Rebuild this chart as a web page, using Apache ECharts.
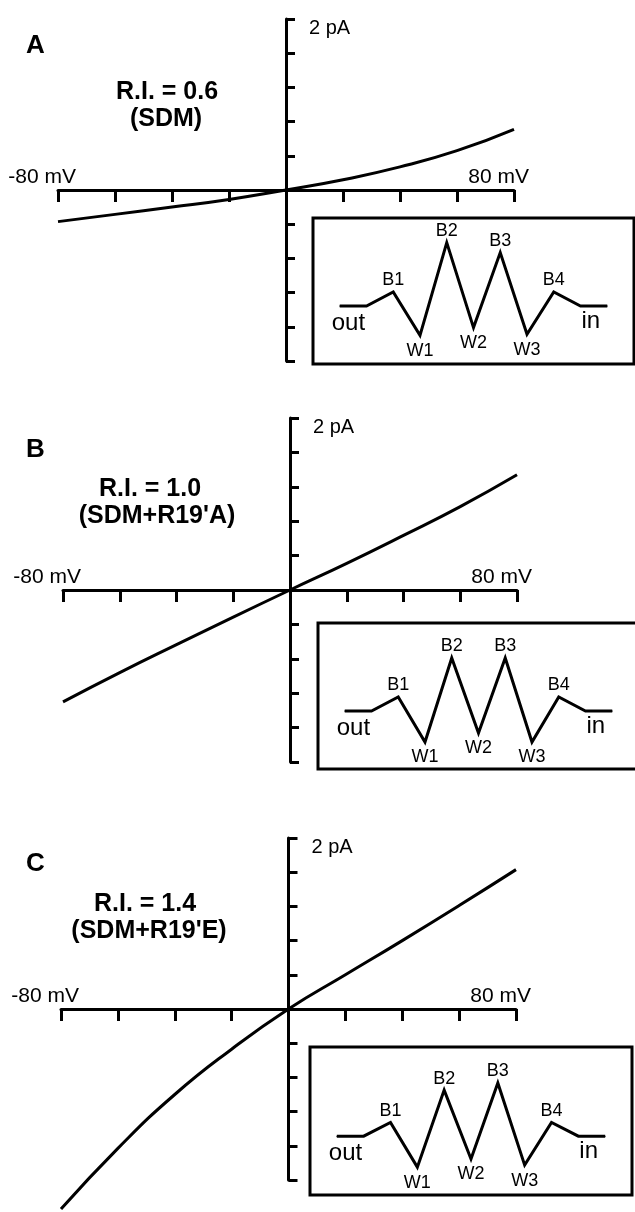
<!DOCTYPE html>
<html>
<head>
<meta charset="utf-8">
<script src="https://cdn.jsdelivr.net/npm/echarts@6/dist/echarts.min.js"></script>
<style>
  html, body { margin: 0; padding: 0; background: #fff; overflow: hidden; }
  #chart { width: 635px; height: 1212px; }
</style>
</head>
<body>
<div id="chart"></div>
<script>
// ---------- DATA ----------
const voltages = [-80, -60, -40, -20, 0, 20, 40, 60, 80];          // mV
const currentA = [-0.37, -0.285, -0.2, -0.11, 0, 0.12, 0.27, 0.46, 0.71];   // pA, R.I. 0.6
const currentB = [-1.30, -0.96, -0.635, -0.315, 0, 0.31, 0.635, 0.97, 1.34]; // pA, R.I. 1.0
const currentC = [-2.34, -1.63, -1.00, -0.47, 0, 0.40, 0.80, 1.21, 1.63];   // pA, R.I. 1.4

const panelLetters = ['A', 'B', 'C'];
const riLabels = ['R.I. = 0.6', 'R.I. = 1.0', 'R.I. = 1.4'];
const constructLabels = ['(SDM)', "(SDM+R19'A)", "(SDM+R19'E)"];
const xEndValues = [-80, 80];
const xEndLabels = ['-80 mV', '80 mV'];
const yTopValue = 2;
const yTopLabel = '2 pA';

// energy profile (arbitrary units) along the pore, out -> in
const siteLabels = ['out', '', 'B1', 'W1', 'B2', 'W2', 'B3', 'W3', 'B4', 'in', ''];
const profileA = [0, 0, 1.4, -2.93, 6.34, -2.16, 5.34, -2.83, 1.4, 0, 0];
const profileB = [0, 0, 1.4, -3.1, 5.3, -2.2, 5.3, -3.1, 1.4, 0, 0];
const profileC = [0, 0, 1.35, -3.05, 4.55, -2.25, 5.25, -2.85, 1.35, 0, 0];

// ---------- LAYOUT ----------
const FONT = '"Liberation Sans", Arial, Helvetica, sans-serif';
const ivGrids = [
  { left: 58, top: 19, width: 456, height: 342 },
  { left: 63, top: 418, width: 454, height: 344 },
  { left: 61, top: 838, width: 455, height: 342 }
];
const insetGrids = [
  { left: 313, top: 218, width: 321, height: 146 },
  { left: 318, top: 623, width: 329, height: 146 },
  { left: 310, top: 1047, width: 322, height: 148 }
];
const insetXMax = [11, 11.3, 11];
const letterPos = [{ left: 26, top: 33 }, { left: 26, top: 437 }, { left: 26, top: 851 }];
const riPos = [{ x: 167, top: 79 }, { x: 150, top: 476 }, { x: 145, top: 891 }];
const conPos = [{ x: 166, top: 106 }, { x: 157, top: 503 }, { x: 149, top: 918 }];

const currents = [currentA, currentB, currentC];
const profiles = [profileA, profileB, profileC];

const grids = [];
const xAxes = [];
const yAxes = [];
const series = [];
const titles = [];

for (let i = 0; i < 3; i++) {
  grids.push(Object.assign({ containLabel: false, outerBoundsMode: 'none' }, ivGrids[i]));
  xAxes.push({
    gridIndex: i, type: 'value', min: -80, max: 80, interval: 20,
    axisLine: { show: true, onZero: true, lineStyle: { color: '#000', width: 3 } },
    axisTick: { show: true, length: 12, lineStyle: { color: '#000', width: 3 } },
    axisLabel: { show: false },
    splitLine: { show: false }
  });
  yAxes.push({
    gridIndex: i, type: 'value', min: -2, max: 2, interval: 0.4,
    axisLine: { show: true, onZero: true, lineStyle: { color: '#000', width: 3 } },
    axisTick: { show: true, inside: true, length: 9, lineStyle: { color: '#000', width: 3 } },
    axisLabel: { show: false },
    splitLine: { show: false }
  });
  series.push({
    type: 'line', xAxisIndex: i, yAxisIndex: i,
    data: voltages.map((v, k) => [v, currents[i][k]]),
    smooth: 0.5, symbol: 'none', clip: false,
    lineStyle: { color: '#000', width: 3 }
  });
  titles.push({
    text: panelLetters[i], left: letterPos[i].left, top: letterPos[i].top, padding: 0,
    textStyle: { fontSize: 26, fontWeight: 'bold', fontFamily: FONT, color: '#000', lineHeight: 26 }
  });
  titles.push({
    text: riLabels[i], left: riPos[i].x, top: riPos[i].top, textAlign: 'center', padding: 0,
    textStyle: { fontSize: 25, fontWeight: 'bold', fontFamily: FONT, color: '#000', lineHeight: 27 }
  });
  titles.push({
    text: constructLabels[i], left: conPos[i].x, top: conPos[i].top, textAlign: 'center', padding: 0,
    textStyle: { fontSize: 25, fontWeight: 'bold', fontFamily: FONT, color: '#000', lineHeight: 27 }
  });
}

for (let i = 0; i < 3; i++) {
  const gi = 3 + i;
  grids.push(Object.assign({ show: true, borderColor: '#000', borderWidth: 3, backgroundColor: 'transparent', containLabel: false, outerBoundsMode: 'none' }, insetGrids[i]));
  xAxes.push({ gridIndex: gi, type: 'value', min: -1, max: insetXMax[i], show: false });
  yAxes.push({ gridIndex: gi, type: 'value', min: -5.8, max: 8.8, show: false });
  series.push({
    type: 'line', xAxisIndex: gi, yAxisIndex: gi,
    symbol: 'circle', symbolSize: 1, itemStyle: { color: '#000' },
    lineStyle: { color: '#000', width: 3, join: 'miter', miterLimit: 10 },
    data: profiles[i].map((v, k) => {
      const name = siteLabels[k];
      const item = { value: [k, v] };
      if (name === 'out') {
        item.label = { show: true, formatter: name, position: 'bottom', distance: 5, align: 'left', offset: [-8, 0], fontSize: 24, fontFamily: FONT, color: '#000' };
      } else if (name === 'in') {
        item.label = { show: true, formatter: name, position: 'bottom', distance: 3, align: 'left', offset: [1, 0], fontSize: 24, fontFamily: FONT, color: '#000' };
      } else if (name.charAt(0) === 'B') {
        item.label = { show: true, formatter: name, position: 'top', distance: 2, fontSize: 18, fontFamily: FONT, color: '#000' };
      } else if (name.charAt(0) === 'W') {
        item.label = { show: true, formatter: name, position: 'bottom', distance: 6, fontSize: 18, fontFamily: FONT, color: '#000' };
      }
      return item;
    })
  });
}

const chart = echarts.init(document.getElementById('chart'), null, { renderer: 'canvas' });
chart.setOption({
  animation: false,
  backgroundColor: '#fff',
  title: titles,
  grid: grids,
  xAxis: xAxes,
  yAxis: yAxes,
  series: series
});

// axis-end labels, positioned from the axis scales
const graphics = [];
const rightShift = [18, 15];
for (let i = 0; i < 3; i++) {
  xEndValues.forEach((v, j) => {
    const p = chart.convertToPixel({ xAxisIndex: i, yAxisIndex: i }, [v, 0]);
    graphics.push({
      type: 'text', x: p[0] + rightShift[j], y: p[1] - 13, silent: true,
      style: { text: xEndLabels[j], fill: '#000', fontSize: 21, fontFamily: FONT, align: 'right', verticalAlign: 'middle' }
    });
  });
  const q = chart.convertToPixel({ xAxisIndex: i, yAxisIndex: i }, [0, yTopValue]);
  graphics.push({
    type: 'text', x: q[0] + 23, y: q[1] + 9, silent: true,
    style: { text: yTopLabel, fill: '#000', fontSize: 20, fontFamily: FONT, align: 'left', verticalAlign: 'middle' }
  });
}
chart.setOption({ graphic: graphics });
</script>
</body>
</html>
